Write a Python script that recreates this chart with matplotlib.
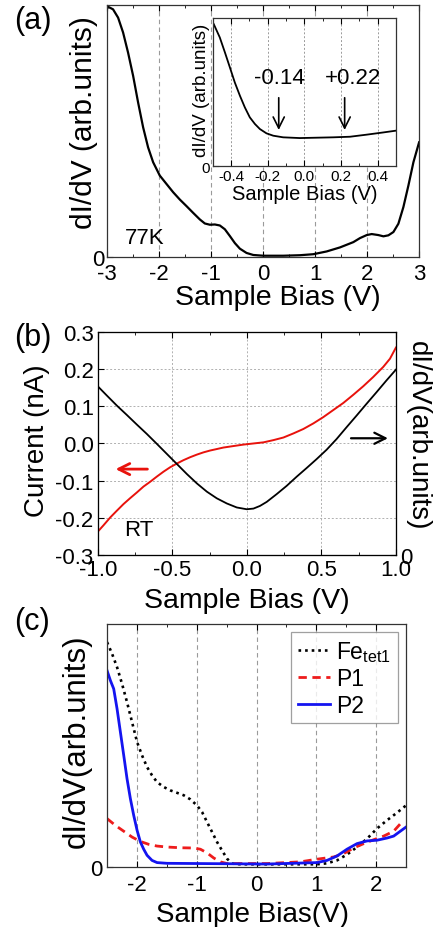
import matplotlib
matplotlib.use("Agg")
import matplotlib.pyplot as plt
from matplotlib.ticker import MultipleLocator

plt.rcParams['font.family'] = ['Liberation Sans', 'DejaVu Sans']
plt.rcParams['mathtext.fontset'] = 'custom'
plt.rcParams['mathtext.rm'] = 'Liberation Sans'
plt.rcParams['mathtext.it'] = 'Liberation Sans:italic'
plt.rcParams['axes.unicode_minus'] = False

# --- data ---
# (a) 77 K dI/dV spectrum
a_bias = [-3.0, -2.98, -2.885, -2.788, -2.692, -2.596, -2.499, -2.403, -2.307,
          -2.211, -2.114, -1.986, -1.858, -1.729, -1.601, -1.473, -1.344,
          -1.216, -1.120, -1.023, -0.927, -0.831, -0.735, -0.638, -0.542,
          -0.446, -0.318, -0.189, 0.003, 0.388, 0.709, 0.966, 1.223, 1.479,
          1.736, 1.864, 1.993, 2.089, 2.217, 2.314, 2.410, 2.506, 2.602, 2.698,
          2.795, 2.891, 3.0]
a_didv = [0.985, 0.993, 0.983, 0.950, 0.891, 0.811, 0.719, 0.613, 0.515,
          0.435, 0.376, 0.323, 0.290, 0.257, 0.228, 0.202, 0.175,
          0.149, 0.133, 0.128, 0.129, 0.125, 0.110, 0.083, 0.055,
          0.033, 0.016, 0.008, 0.005, 0.005, 0.007, 0.011, 0.022, 0.038,
          0.059, 0.075, 0.087, 0.091, 0.087, 0.082, 0.086, 0.099, 0.132, 0.198,
          0.284, 0.376, 0.455]
# inset, low-bias zoom
in_bias = [-0.5, -0.495, -0.462, -0.434, -0.407, -0.380, -0.352, -0.325, -0.298,
           -0.270, -0.243, -0.207, -0.170, -0.116, -0.025, 0.158, 0.249, 0.340,
           0.431, 0.5]
in_didv = [0.97, 0.959, 0.869, 0.768, 0.667, 0.565, 0.475, 0.396, 0.329,
           0.284, 0.250, 0.221, 0.205, 0.194, 0.189, 0.194, 0.198, 0.212,
           0.227, 0.239]
gap_edges = [-0.14, 0.22]
gap_labels = ['-0.14', '+0.22']

# (b) room temperature I-V (left axis) and dI/dV (right axis)
b_bias_i = [-1.0, -0.962, -0.917, -0.873, -0.828, -0.783, -0.739, -0.694,
            -0.649, -0.604, -0.560, -0.515, -0.470, -0.426, -0.381, -0.336,
            -0.292, -0.247, -0.202, -0.158, -0.091, -0.023, 0.044, 0.111,
            0.178, 0.245, 0.312, 0.379, 0.446, 0.513, 0.580, 0.647, 0.714,
            0.781, 0.848, 0.915, 0.960, 1.0]
b_current = [-0.237, -0.220, -0.199, -0.181, -0.163, -0.147, -0.132, -0.116,
             -0.103, -0.089, -0.076, -0.064, -0.054, -0.045, -0.037, -0.030,
             -0.024, -0.019, -0.015, -0.011, -0.007, -0.003, 0.000, 0.003,
             0.009, 0.016, 0.027, 0.039, 0.054, 0.071, 0.090, 0.109, 0.131,
             0.154, 0.179, 0.206, 0.228, 0.258]
b_bias_g = [-1.0, -0.940, -0.873, -0.806, -0.739, -0.672, -0.604, -0.537,
            -0.470, -0.403, -0.336, -0.269, -0.202, -0.135, -0.068, -0.001,
            0.044, 0.088, 0.133, 0.200, 0.267, 0.334, 0.401, 0.468, 0.535,
            0.602, 0.669, 0.736, 0.803, 0.870, 0.937, 1.0]
b_didv = [0.756, 0.715, 0.670, 0.628, 0.585, 0.543, 0.498, 0.453,
          0.408, 0.363, 0.321, 0.284, 0.254, 0.231, 0.213, 0.205,
          0.208, 0.220, 0.238, 0.273, 0.310, 0.351, 0.390, 0.430, 0.472,
          0.520, 0.573, 0.625, 0.678, 0.730, 0.783, 0.831]

# (c) site-resolved spectra
fe_bias = [-2.5, -2.416, -2.333, -2.249, -2.166, -2.082, -1.998, -1.915, -1.831,
           -1.748, -1.664, -1.552, -1.441, -1.329, -1.218, -1.106, -0.995,
           -0.911, -0.828, -0.744, -0.661, -0.577, -0.493, -0.410, -0.270,
           0.176, 1.012, 1.179, 1.346, 1.513, 1.681, 1.848, 2.015, 2.182,
           2.349, 2.5]
fe_didv = [0.925, 0.877, 0.822, 0.753, 0.678, 0.596, 0.514, 0.459, 0.411,
           0.377, 0.349, 0.329, 0.315, 0.305, 0.295, 0.278, 0.253,
           0.226, 0.185, 0.144, 0.103, 0.068, 0.034, 0.014, 0.011,
           0.011, 0.011, 0.015, 0.027, 0.051, 0.082, 0.116, 0.158, 0.192,
           0.223, 0.253]
p1_bias = [-2.5, -2.361, -2.221, -2.082, -1.943, -1.803, -1.664, -1.497, -1.274,
           -1.051, -0.939, -0.828, -0.716, -0.605, -0.493, 0.176, 0.733, 1.012,
           1.290, 1.458, 1.625, 1.792, 1.959, 2.127, 2.294, 2.433]
p1_didv = [0.199, 0.171, 0.147, 0.123, 0.105, 0.093, 0.086, 0.082, 0.079,
           0.078, 0.073, 0.058, 0.037, 0.021, 0.014, 0.014, 0.021, 0.032,
           0.041, 0.055, 0.078, 0.096, 0.112, 0.127, 0.147, 0.185]
p2_bias = [-2.5, -2.444, -2.389, -2.333, -2.277, -2.221, -2.166, -2.110, -2.054,
           -1.998, -1.943, -1.887, -1.831, -1.748, -1.664, -1.497, -0.939,
           0.176, 1.012, 1.179, 1.346, 1.513, 1.681, 1.848, 2.015, 2.182,
           2.294, 2.405, 2.5]
p2_didv = [0.808, 0.767, 0.733, 0.651, 0.555, 0.459, 0.363, 0.281, 0.212,
           0.151, 0.103, 0.073, 0.048, 0.027, 0.018, 0.015, 0.014,
           0.012, 0.018, 0.027, 0.045, 0.073, 0.096, 0.107, 0.110, 0.119,
           0.127, 0.147, 0.164]

GRID_COL = '#9a9a9a'

fig = plt.figure(figsize=(4.37, 9.28), dpi=100)


def style_ticks(ax, fs, pad):
    ax.tick_params(which='both', direction='in', top=True, labelsize=fs, pad=pad)
    ax.tick_params(which='major', length=4)
    ax.tick_params(which='minor', length=2.5)
    for s in ax.spines.values():
        s.set_linewidth(0.9)
        s.set_color('#333333')


# ---- (a) ----
ax_a = fig.add_axes([0.245, 0.722, 0.714, 0.2715])
ax_a.plot(a_bias, a_didv, color='black', lw=1.6)
ax_a.set_xlim(-3, 3)
ax_a.set_ylim(0, 1.0)
ax_a.set_xticks([-3, -2, -1, 0, 1, 2, 3])
ax_a.xaxis.set_minor_locator(MultipleLocator(0.5))
ax_a.set_yticks([0])
for xv in [-2, -1, 0, 1, 2]:
    ax_a.axvline(xv, color=GRID_COL, lw=0.8, ls=(0, (4, 3)), zorder=0)
style_ticks(ax_a, 16, 4)
ax_a.tick_params(axis='y', pad=2)
ax_a.set_xlabel('Sample Bias (V)', fontsize=20.5, va='top')
ax_a.xaxis.set_label_coords(0.548, -0.108)
ax_a.set_ylabel('dI/dV (arb.units)', fontsize=21.5)
ax_a.yaxis.set_label_coords(-0.03, 0.536)
ax_a.text(-2.27, 0.079, '77K', fontsize=16, ha='center', va='center')
fig.text(0.033, 0.993, '(a)', fontsize=22, va='top')

# inset
ax_in = fig.add_axes([0.487, 0.820, 0.419, 0.1595])
ax_in.plot(in_bias, in_didv, color='black', lw=1.3)
ax_in.set_xlim(-0.5, 0.5)
ax_in.set_ylim(0, 1.0)
ax_in.set_xticks([-0.4, -0.2, 0.0, 0.2, 0.4])
ax_in.set_xticklabels(['-0.4', '-0.2', '0.0', '0.2', '0.4'])
ax_in.xaxis.set_minor_locator(MultipleLocator(0.1))
ax_in.set_yticks([0])
for xv in [-0.4, -0.2, 0.0, 0.2, 0.4]:
    ax_in.axvline(xv, color=GRID_COL, lw=0.7, ls=(0, (2, 2)), zorder=0)
style_ticks(ax_in, 11, 2)
ax_in.set_xlabel('Sample Bias (V)', fontsize=14.5, va='top')
ax_in.xaxis.set_label_coords(0.503, -0.12)
ax_in.set_ylabel('dI/dV (arb.units)', fontsize=13.5)
ax_in.yaxis.set_label_coords(-0.015, 0.52)
for xv, lab in zip(gap_edges, gap_labels):
    ax_in.annotate('', xy=(xv, 0.225), xytext=(xv, 0.48),
                   arrowprops=dict(arrowstyle='->', color='black', lw=1.2,
                                   mutation_scale=20))
    ax_in.text(xv + (0.045 if lab.startswith('+') else 0.005), 0.60, lab,
               fontsize=16, ha='center', va='center')

# ---- (b) ----
ax_b = fig.add_axes([0.224, 0.4009, 0.682, 0.2403])
ax_b.plot(b_bias_i, b_current, color='#e8120c', lw=1.4)
ax_b.set_xlim(-1, 1)
ax_b.set_ylim(-0.3, 0.3)
ax_b.set_xticks([-1.0, -0.5, 0.0, 0.5, 1.0])
ax_b.set_xticklabels(['-1.0', '-0.5', '0.0', '0.5', '1.0'])
ax_b.xaxis.set_minor_locator(MultipleLocator(0.25))
ax_b.set_yticks([-0.3, -0.2, -0.1, 0.0, 0.1, 0.2, 0.3])
ax_b.set_yticklabels(['-0.3', '-0.2', '-0.1', '0.0', '0.1', '0.2', '0.3'])
ax_b.grid(True, which='major', color='#b0b0b0', lw=0.7, ls=(0, (2, 2)))
ax_b.set_axisbelow(True)
style_ticks(ax_b, 16, 3)
ax_b.tick_params(right=False)
ax_b.set_xlabel('Sample Bias (V)', fontsize=20.5, va='top')
ax_b.xaxis.set_label_coords(0.5, -0.145)
ax_b.set_ylabel('Current (nA)', fontsize=20)
ax_b.yaxis.set_label_coords(-0.16, 0.516)
ax_b.text(-0.727, -0.231, 'RT', fontsize=16, ha='center', va='center')
ax_b.annotate('', xy=(-0.9, -0.069), xytext=(-0.649, -0.069),
              arrowprops=dict(arrowstyle='->', color='#e8120c', lw=2.0,
                              mutation_scale=20))
ax_b.annotate('', xy=(0.965, 0.014), xytext=(0.68, 0.014),
              arrowprops=dict(arrowstyle='->', color='black', lw=1.6,
                              mutation_scale=20))

ax_b2 = ax_b.twinx()
ax_b2.plot(b_bias_g, b_didv, color='black', lw=1.3)
ax_b2.set_ylim(0, 1)
ax_b2.set_yticks([0])
ax_b2.tick_params(direction='in', labelsize=16, length=4, pad=3)
ax_b2.set_ylabel('dI/dV(arb.units)', fontsize=20, rotation=270, va='bottom')
ax_b2.yaxis.set_label_coords(1.03, 0.54)
fig.text(0.033, 0.652, '(b)', fontsize=22, va='top')

# ---- (c) ----
ax_c = fig.add_axes([0.245, 0.0647, 0.684, 0.2619])
ax_c.plot(fe_bias, fe_didv, color='black', lw=1.9, ls=(0, (1, 1.5)),
          label=r'Fe$_{\mathrm{tet1}}$')
ax_c.plot(p1_bias, p1_didv, color='#ee1c1c', lw=2.0, ls=(0, (3, 2)), label='P1')
ax_c.plot(p2_bias, p2_didv, color='#1414f0', lw=2.0, label='P2')
ax_c.set_xlim(-2.5, 2.5)
ax_c.set_ylim(0, 1.0)
ax_c.set_xticks([-2, -1, 0, 1, 2])
ax_c.xaxis.set_minor_locator(MultipleLocator(0.5))
ax_c.set_yticks([0])
for xv in [-2, -1, 0, 1, 2]:
    ax_c.axvline(xv, color=GRID_COL, lw=0.8, ls=(0, (4, 3)), zorder=0)
style_ticks(ax_c, 16, 5)
ax_c.tick_params(axis='y', pad=3)
ax_c.set_xlabel('Sample Bias(V)', fontsize=20, va='top')
ax_c.xaxis.set_label_coords(0.485, -0.14)
ax_c.set_ylabel('dI/dV(arb.units)', fontsize=22.5)
ax_c.yaxis.set_label_coords(-0.05, 0.52)
leg = ax_c.legend(loc='upper right', bbox_to_anchor=(0.973, 0.967),
                  fontsize=16.5, frameon=True, fancybox=False,
                  handlelength=1.4, handletextpad=0.25, borderpad=0.3,
                  labelspacing=0.15, borderaxespad=0.0)
leg.get_frame().set_edgecolor('#888888')
leg.get_frame().set_linewidth(0.9)
fig.text(0.033, 0.346, '(c)', fontsize=22, va='top')

fig.savefig('out.png', dpi=100)
